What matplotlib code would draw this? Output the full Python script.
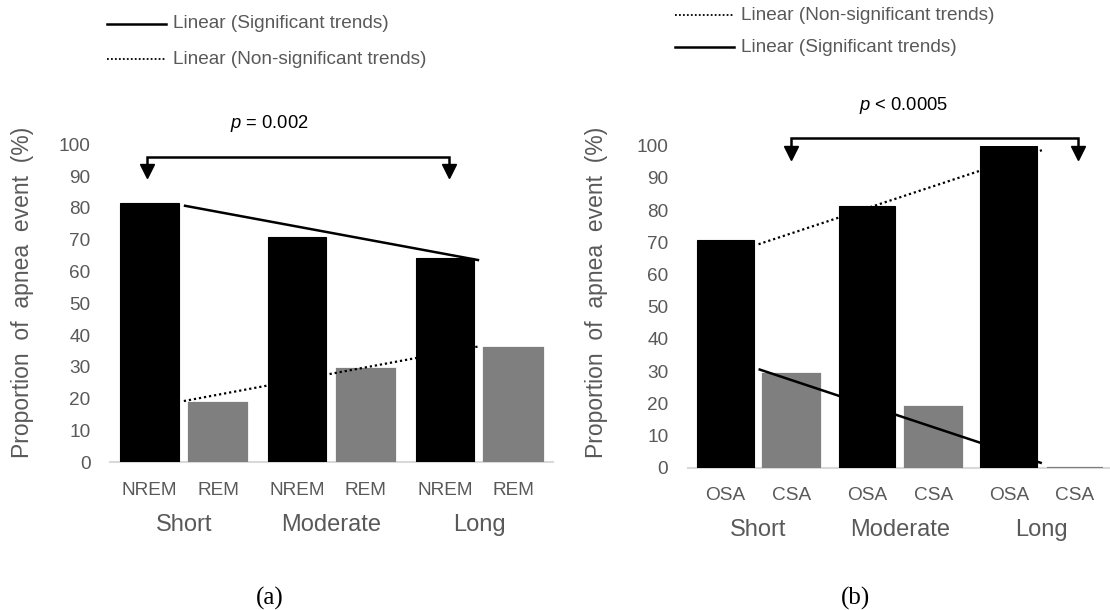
import numpy as np
import matplotlib
matplotlib.use("Agg")
import matplotlib.pyplot as plt
from matplotlib.lines import Line2D
from matplotlib.transforms import blended_transform_factory

plt.rcParams["font.family"] = ["Liberation Sans", "DejaVu Sans"]
plt.rcParams["mathtext.fontset"] = "custom"
plt.rcParams["mathtext.rm"] = "Liberation Sans"
plt.rcParams["mathtext.it"] = "Liberation Sans:italic"

# ---- data -------------------------------------------------------------
groups = ["Short", "Moderate", "Long"]

stage_labels = ["NREM", "REM"]
nrem_pct = [81.4, 70.8, 64.2]
rem_pct = [18.6, 29.2, 35.8]

type_labels = ["OSA", "CSA"]
osa_pct = [70.8, 81.2, 100.0]
csa_pct = [29.2, 18.8, 0.0]

p_text_a = "$\\it{p}$ = 0.002"
p_text_b = "$\\it{p}$ < 0.0005"
yticks = list(range(0, 101, 10))

# ---- style ------------------------------------------------------------
BLACK = "#000000"
GREY_BAR = "#7f7f7f"
TEXT = "#595959"
AXIS = "#d9d9d9"
W, H = 1110, 610

fig = plt.figure(figsize=(W / 100, H / 100), dpi=100)


def fx(px):
    return px / W


def fy(py):
    return 1 - py / H


def panel(rect, first, second, labels, width, off, group_y, pad):
    ax = fig.add_axes(rect)
    x = np.arange(len(groups))
    ax.bar(x - off, first, width, color=BLACK, edgecolor=BLACK, linewidth=0.8, zorder=3)
    ax.bar(x + off, second, width, color=GREY_BAR, edgecolor=GREY_BAR, linewidth=1.6,
           zorder=3)
    ax.set_xlim(-0.5, len(groups) - 0.5)
    ax.set_ylim(0, 100)
    ax.set_yticks(yticks)
    ax.tick_params(axis="y", length=0, labelsize=13.7, labelcolor=TEXT, pad=14)
    ticks = np.concatenate([x - off, x + off])
    ax.set_xticks(ticks)
    ax.set_xticklabels([labels[0]] * len(x) + [labels[1]] * len(x))
    ax.tick_params(axis="x", length=0, labelsize=13.7, labelcolor=TEXT, pad=pad)
    for s in ("top", "right", "left"):
        ax.spines[s].set_visible(False)
    ax.spines["bottom"].set_color(AXIS)
    ax.spines["bottom"].set_linewidth(1.5)
    ax.spines["bottom"].set_zorder(1)
    tr = blended_transform_factory(ax.transData, ax.transAxes)
    for xi, g in zip(x, groups):
        ax.text(xi, group_y, g, transform=tr, ha="center", va="center",
                fontsize=17, color=TEXT)
    return ax, x


def trend(ax, x, vals, style):
    k, b = np.polyfit(x, vals, 1)
    xs = np.array([x[0], x[-1]])
    if style == "solid":
        ax.plot(xs, k * xs + b, color=BLACK, lw=1.8, solid_capstyle="butt", zorder=4)
    else:
        ax.plot(xs, k * xs + b, color=BLACK, lw=1.6, linestyle=(0, (1, 1.3)), zorder=4)


def bracket(ax, x0, x1, y_top, y_drop, y_tri):
    ax.plot([x0, x0, x1, x1], [y_drop, y_top, y_top, y_drop], color=BLACK,
            lw=1.8, clip_on=False, zorder=5, solid_joinstyle="miter")
    ax.plot([x0, x1], [y_tri, y_tri], linestyle="none", marker="v", ms=10,
            color=BLACK, clip_on=False, zorder=5)


# ---- panel (a): sleep stage -------------------------------------------
ax_a, xa = panel([fx(110), fy(462.3), fx(443), 318 / H], nrem_pct, rem_pct,
                 stage_labels, 0.395, 0.232, -0.197, 14)
trend(ax_a, xa, nrem_pct, "solid")
trend(ax_a, xa, rem_pct, "dotted")
bracket(ax_a, -0.2475, 1.797, 95.9, 93.4, 91.5)

# ---- panel (b): apnea type --------------------------------------------
ax_b, xb = panel([fx(687.7), fy(467.7), fx(425), 322 / H], osa_pct, csa_pct,
                 type_labels, 0.399, 0.234, -0.193, 14)
trend(ax_b, xb, osa_pct, "dotted")
trend(ax_b, xb, csa_pct, "solid")
bracket(ax_b, 0.229, 2.257, 102.3, 99.6, 97.8)

# ---- axis titles, p-values and panel tags ------------------------------
ylab = "Proportion  of  apnea  event  (%)"
fig.text(fx(23), fy(292), ylab, rotation=90, ha="center", va="center",
         fontsize=16.5, color=TEXT)
fig.text(fx(597), fy(292), ylab, rotation=90, ha="center", va="center",
         fontsize=16.5, color=TEXT)

fig.text(fx(269), fy(124), p_text_a, ha="center", va="center", fontsize=13.2, color=BLACK)
fig.text(fx(903), fy(105), p_text_b, ha="center", va="center", fontsize=13.2, color=BLACK)

fig.text(fx(270), fy(598), "(a)", ha="center", va="center", fontsize=18,
         family="Liberation Serif", color=BLACK)
fig.text(fx(855), fy(598), "(b)", ha="center", va="center", fontsize=18,
         family="Liberation Serif", color=BLACK)

# ---- trend-line legends -----------------------------------------------
def legend_row(x0, x1, y, style, label):
    if style == "solid":
        ln = Line2D([fx(x0), fx(x1)], [fy(y), fy(y)], color=BLACK, lw=1.8,
                    transform=fig.transFigure)
    else:
        ln = Line2D([fx(x0), fx(x1)], [fy(y), fy(y)], color=BLACK, lw=1.3,
                    linestyle=(0, (1, 1.2)), transform=fig.transFigure)
    fig.add_artist(ln)
    fig.text(fx(x1 + 7), fy(y), label, ha="left", va="center", fontsize=13.7, color=TEXT)


legend_row(107, 166, 24, "solid", "Linear (Significant trends)")
legend_row(107, 166, 59, "dotted", "Linear (Non-significant trends)")
legend_row(675, 734, 15, "dotted", "Linear (Non-significant trends)")
legend_row(675, 734, 47, "solid", "Linear (Significant trends)")

fig.savefig("out.png", dpi=100)
